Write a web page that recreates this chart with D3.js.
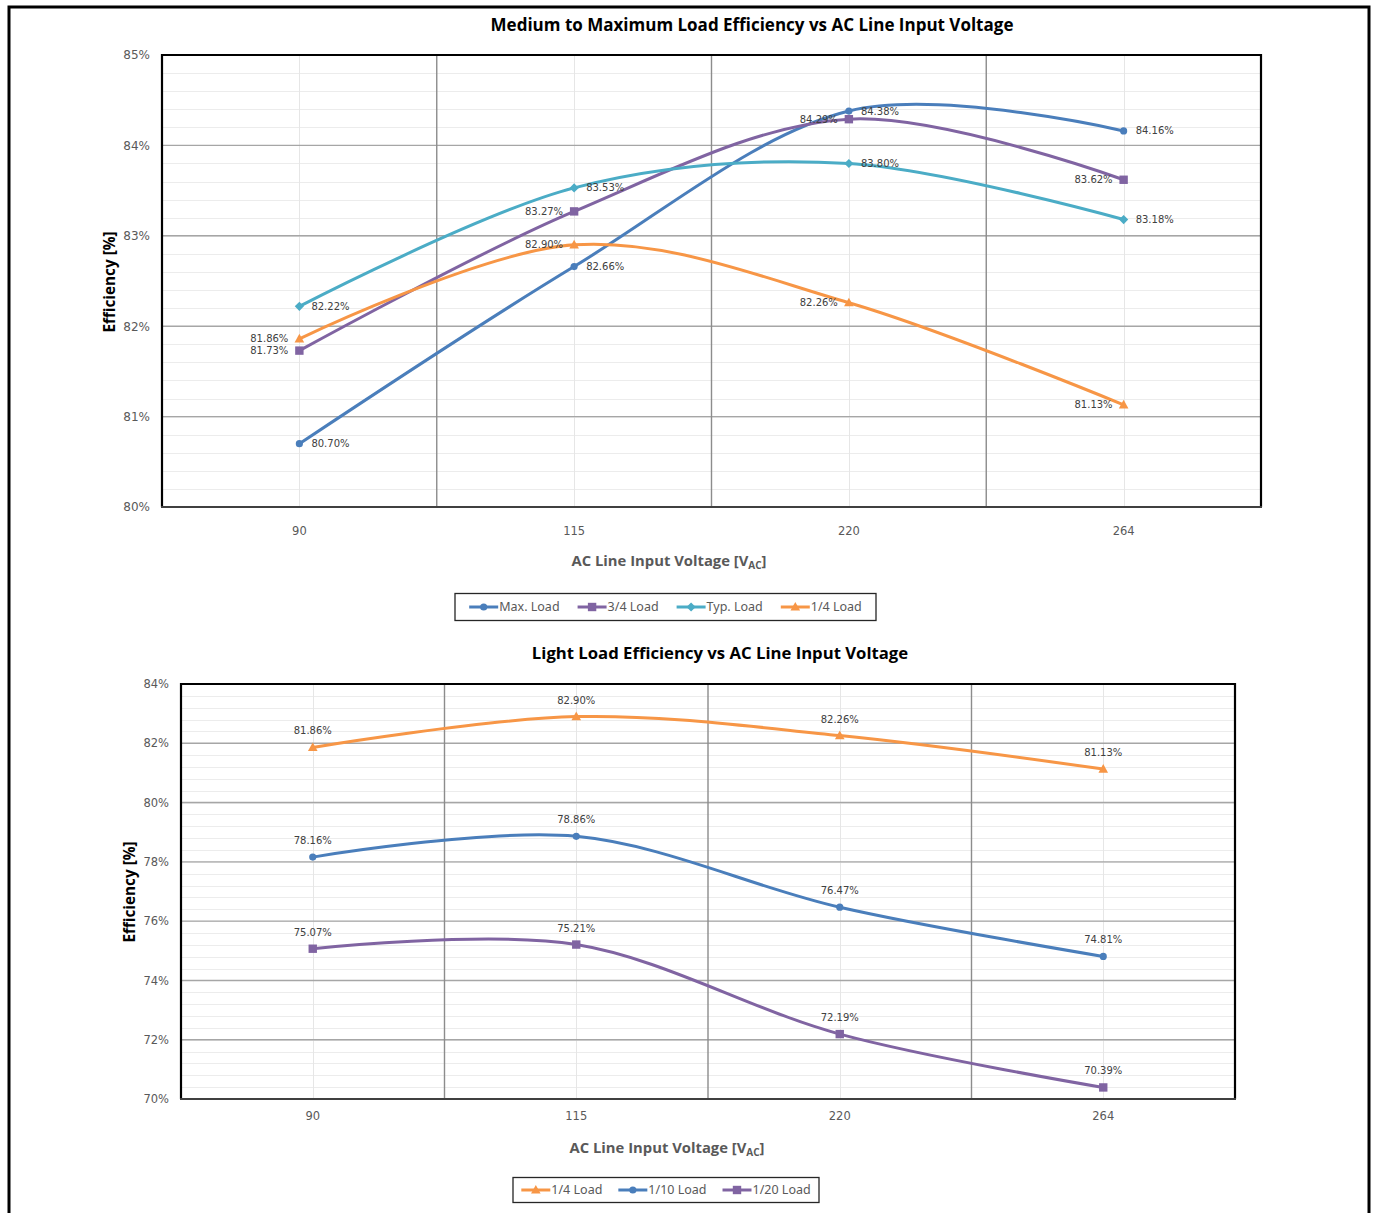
<!DOCTYPE html>
<html><head><meta charset="utf-8">
<script src="https://cdn.jsdelivr.net/npm/d3@7"></script>
<style>body{margin:0;background:#fff}svg{display:block}</style>
</head><body>
<svg id="c" width="1375" height="1213"></svg>
<script>
// ---------- DATA ----------
const categories = ["90", "115", "220", "264"];

// Chart 1: Medium to Maximum Load
const topNames = ["Max. Load", "3/4 Load", "Typ. Load", "1/4 Load"];
const maxLoad = [80.70, 82.66, 84.38, 84.16];
const threeQuarterLoad = [81.73, 83.27, 84.29, 83.62];
const typLoad = [82.22, 83.53, 83.80, 83.18];
const quarterLoad = [81.86, 82.90, 82.26, 81.13];
const topTicks = [80, 81, 82, 83, 84, 85];

// Chart 2: Light Load
const bottomNames = ["1/4 Load", "1/10 Load", "1/20 Load"];
const tenthLoad = [78.16, 78.86, 76.47, 74.81];
const twentiethLoad = [75.07, 75.21, 72.19, 70.39];
const bottomTicks = [70, 72, 74, 76, 78, 80, 82, 84];

// ---------- STYLE ----------
const COL = {blue: "#4a7ebb", purple: "#8064a2", teal: "#4bacc6", orange: "#f79646"};
const svg = d3.select("#c");

// outer frame
svg.append("rect").attr("x", 9).attr("y", 7).attr("width", 1360).attr("height", 1240)
  .attr("fill", "none").attr("stroke", "#000").attr("stroke-width", 3);

function marker(g, shape, color, x, y) {
  if (shape === "circle") {
    g.append("circle").attr("cx", x).attr("cy", y).attr("r", 3.6).attr("fill", color);
  } else if (shape === "square") {
    g.append("rect").attr("x", x - 4.2).attr("y", y - 4.2).attr("width", 8.4).attr("height", 8.4).attr("fill", color);
  } else if (shape === "diamond") {
    g.append("path").attr("d", `M${x},${y-4.6}L${x+4.6},${y}L${x},${y+4.6}L${x-4.6},${y}Z`).attr("fill", color);
  } else if (shape === "triangle") {
    g.append("path").attr("d", `M${x},${y-5}L${x+4.8},${y+3.6}L${x-4.8},${y+3.6}Z`).attr("fill", color);
  }
}

function drawChart(cfg) {
  const {left, right, top, bottom} = cfg;
  const x = d3.scaleBand().domain(categories).range([left, right]).padding(0);
  const y = d3.scaleLinear().domain([cfg.ticks[0], cfg.ticks[cfg.ticks.length - 1]]).range([bottom, top]);
  const g = svg.append("g");

  // minor horizontal grid
  const minor = d3.range(cfg.ticks[0], cfg.ticks[cfg.ticks.length - 1] + 1e-9, cfg.minorStep);
  g.append("g").selectAll("line").data(minor).join("line")
    .attr("x1", left).attr("x2", right)
    .attr("y1", d => Math.round(y(d)) + 0.5).attr("y2", d => Math.round(y(d)) + 0.5)
    .attr("stroke", "#ececec").attr("stroke-width", 1);
  // minor vertical at category centers
  g.append("g").selectAll("line").data(categories).join("line")
    .attr("x1", d => Math.round(x(d) + x.bandwidth() / 2) + 0.5)
    .attr("x2", d => Math.round(x(d) + x.bandwidth() / 2) + 0.5)
    .attr("y1", top).attr("y2", bottom).attr("stroke", "#e6e6e6").attr("stroke-width", 1);
  // major horizontal grid
  g.append("g").selectAll("line").data(cfg.ticks).join("line")
    .attr("x1", left).attr("x2", right)
    .attr("y1", d => y(d)).attr("y2", d => y(d))
    .attr("stroke", "#a6a6a6").attr("stroke-width", 1.4);
  // major vertical at category boundaries
  g.append("g").selectAll("line").data(categories.slice(1)).join("line")
    .attr("x1", d => x(d)).attr("x2", d => x(d))
    .attr("y1", top).attr("y2", bottom).attr("stroke", "#8c8c8c").attr("stroke-width", 1.4);

  // y axis tick labels
  const yAxis = d3.axisLeft(y).tickValues(cfg.ticks).tickSize(0).tickPadding(12).tickFormat(d => d + "%");
  const ya = g.append("g").attr("transform", `translate(${left},0)`).call(yAxis);
  ya.select(".domain").remove();
  ya.selectAll("text").attr("font-family", "DejaVu Sans").attr("font-size", cfg.tickSize).attr("fill", "#595959");

  // x axis
  const xAxis = d3.axisBottom(x).tickSize(0).tickPadding(cfg.xPad);
  const xa = g.append("g").attr("transform", `translate(0,${bottom})`).call(xAxis);
  xa.select(".domain").remove();
  xa.selectAll("text").attr("font-family", "DejaVu Sans").attr("font-size", 11.5).attr("fill", "#595959");

  // frame: top/left/right black, bottom axis line
  g.append("path").attr("d", `M${left},${bottom}V${top}H${right}V${bottom}`)
    .attr("fill", "none").attr("stroke", "#000").attr("stroke-width", 2.2);
  g.append("line").attr("x1", left - 1).attr("x2", right + 1).attr("y1", bottom).attr("y2", bottom)
    .attr("stroke", "#404040").attr("stroke-width", 2.2);

  // series
  const line = d3.line().x((d, i) => x(categories[i]) + x.bandwidth() / 2).y(d => y(d))
    .curve(d3.curveCardinal.tension(0));
  cfg.series.forEach(s => {
    g.append("path").attr("d", line(s.values)).attr("fill", "none")
      .attr("stroke", s.color).attr("stroke-width", 3).attr("stroke-linecap", "round");
    s.values.forEach((v, i) => marker(g, s.shape, s.color, x(categories[i]) + x.bandwidth() / 2, y(v)));
  });
  // labels
  cfg.series.forEach(s => {
    s.values.forEach((v, i) => {
      const px = x(categories[i]) + x.bandwidth() / 2, py = y(v);
      const t = g.append("text").text(v.toFixed(2) + "%")
        .attr("font-family", "DejaVu Sans").attr("font-size", 10).attr("fill", "#404040");
      if (s.label === "right") t.attr("x", px + 12).attr("y", py).attr("dy", "0.35em");
      else if (s.label === "left") t.attr("x", px - 11).attr("y", py).attr("dy", "0.35em").attr("text-anchor", "end");
      else t.attr("x", px).attr("y", py - 13).attr("text-anchor", "middle");
    });
  });

  // title
  svg.append("text").text(cfg.title).attr("x", cfg.titleX).attr("y", cfg.titleY)
    .attr("text-anchor", "middle").attr("font-family", "Open Sans").attr("font-weight", "bold")
    .attr("font-size", cfg.titleSize).attr("fill", "#000");
  // x axis title
  const xt = svg.append("text").attr("x", cfg.xTitleX).attr("y", cfg.xTitleY).attr("text-anchor", "middle")
    .attr("font-family", "Open Sans").attr("font-weight", "bold").attr("font-size", 14.8).attr("fill", "#595959");
  xt.append("tspan").text("AC Line Input Voltage [V");
  xt.append("tspan").text("AC").attr("font-size", 10).attr("dy", 3);
  xt.append("tspan").text("]").attr("dy", -3);
  // y axis title
  svg.append("text").text("Efficiency [%]")
    .attr("transform", `translate(${cfg.yTitleX},${cfg.yTitleY}) rotate(-90)`)
    .attr("text-anchor", "middle").attr("font-family", "Open Sans").attr("font-weight", "bold")
    .attr("font-size", 15.3).attr("fill", "#000");

  // legend
  const lg = svg.append("g");
  let cx = 0;
  cfg.series.slice().sort((a, b) => a.legendOrder - b.legendOrder).forEach(s => {
    const ig = lg.append("g").attr("transform", `translate(${cx},0)`);
    ig.append("line").attr("x1", 0).attr("x2", 29).attr("y1", 0).attr("y2", 0)
      .attr("stroke", s.color).attr("stroke-width", 3);
    marker(ig, s.shape, s.color, 14.5, 0);
    const tt = ig.append("text").text(s.name).attr("x", 30).attr("dy", "0.35em")
      .attr("font-family", "Noto Sans").attr("font-size", 12.5).attr("fill", "#595959");
    const w = 30 + tt.node().getComputedTextLength();
    cx += w + cfg.legendGap;
  });
  const totalW = cx - cfg.legendGap;
  const bx0 = cfg.legendCX - cfg.legendW / 2;
  lg.attr("transform", `translate(${cfg.legendCX - totalW / 2},${cfg.legendY})`);
  svg.append("rect").attr("x", bx0).attr("y", cfg.legendY - cfg.legendH / 2)
    .attr("width", cfg.legendW).attr("height", cfg.legendH)
    .attr("fill", "none").attr("stroke", "#262626").attr("stroke-width", 1.3);
}

drawChart({
  left: 162, right: 1261, top: 55, bottom: 507,
  ticks: topTicks, minorStep: 0.2, tickSize: 12, xPad: 20,
  title: "Medium to Maximum Load Efficiency vs AC Line Input Voltage", titleX: 752, titleY: 31, titleSize: 17,
  xTitleX: 669, xTitleY: 566, yTitleX: 115, yTitleY: 282,
  legendCX: 665.5, legendY: 607, legendW: 421, legendH: 27, legendGap: 18,
  series: [
    {name: topNames[0], values: maxLoad, color: COL.blue, shape: "circle", label: "right", legendOrder: 0},
    {name: topNames[1], values: threeQuarterLoad, color: COL.purple, shape: "square", label: "left", legendOrder: 1},
    {name: topNames[2], values: typLoad, color: COL.teal, shape: "diamond", label: "right", legendOrder: 2},
    {name: topNames[3], values: quarterLoad, color: COL.orange, shape: "triangle", label: "left", legendOrder: 3}
  ]
});

drawChart({
  left: 181, right: 1235, top: 684, bottom: 1099,
  ticks: bottomTicks, minorStep: 0.4, tickSize: 11.5, xPad: 13,
  title: "Light Load Efficiency vs AC Line Input Voltage", titleX: 720, titleY: 659, titleSize: 16.7,
  xTitleX: 667, xTitleY: 1153, yTitleX: 135, yTitleY: 892,
  legendCX: 666, legendY: 1190, legendW: 306, legendH: 25, legendGap: 16,
  series: [
    {name: bottomNames[1], values: tenthLoad, color: COL.blue, shape: "circle", label: "above", legendOrder: 1},
    {name: bottomNames[2], values: twentiethLoad, color: COL.purple, shape: "square", label: "above", legendOrder: 2},
    {name: bottomNames[0], values: quarterLoad, color: COL.orange, shape: "triangle", label: "above", legendOrder: 0}
  ]
});
</script>
</body></html>
